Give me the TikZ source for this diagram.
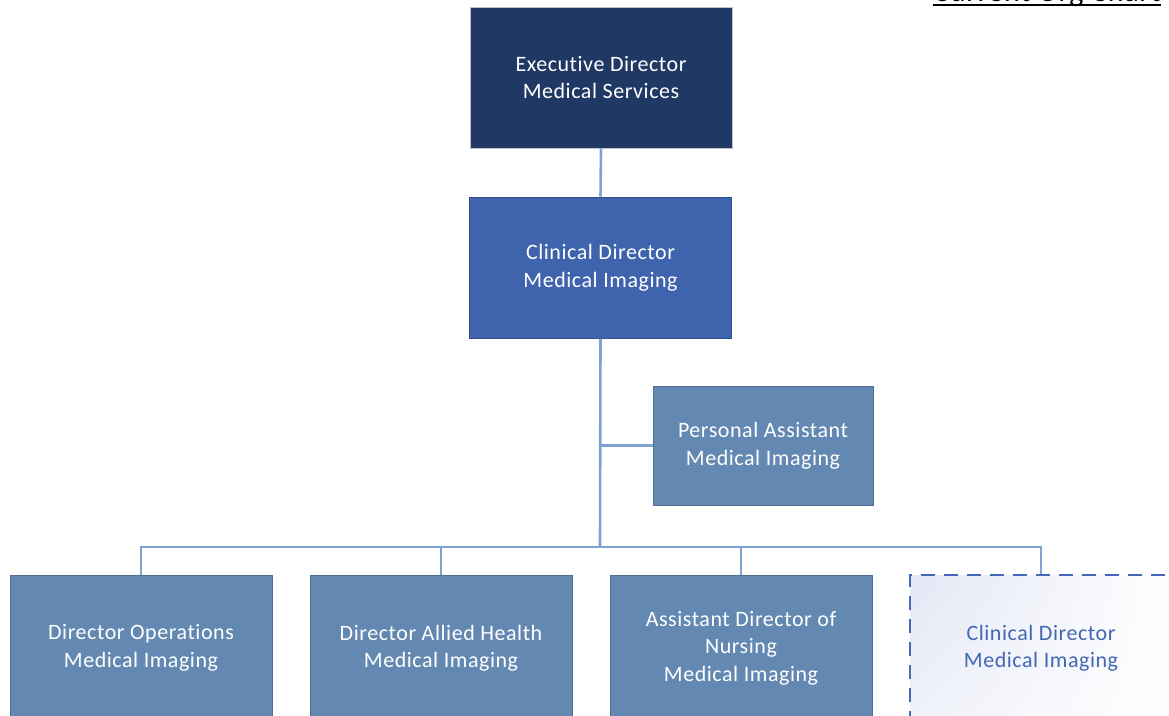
\documentclass[tikz,border=0pt]{standalone}
\usepackage{fontspec}
\setmainfont{Carlito}[Ligatures=NoCommon, LetterSpace=2.5]
\usetikzlibrary{shadings}
\definecolor{execfill}{HTML}{203864}
\definecolor{execline}{HTML}{BFC3CC}
\definecolor{clinfill}{HTML}{3F63AD}
\definecolor{clinline}{HTML}{2F5290}
\definecolor{stafffill}{HTML}{6388B1}
\definecolor{staffline}{HTML}{4F6E93}
\definecolor{connline}{HTML}{7DA3D5}
\definecolor{vacline}{HTML}{4469B8}
\definecolor{vactext}{HTML}{4168B5}
\definecolor{vacshade}{HTML}{E4E7F5}
\tikzset{
  orgbox/.style={rectangle, draw, line width=1pt, text=white, align=center,
    font=\fontsize{22}{27.5}\selectfont, minimum width=262pt, minimum height=141pt, inner sep=0pt},
  execbox/.style={orgbox, fill=execfill, draw=execline},
  clinbox/.style={orgbox, fill=clinfill, draw=clinline},
  staffbox/.style={orgbox, fill=stafffill, draw=staffline},
  lowbox/.style={staffbox, minimum height=146pt},
  conn/.style={draw=connline, line width=2.6pt},
  vacant/.style={draw=vacline, line width=2.6pt, dash pattern=on 14pt off 9pt}
}
\begin{document}
\begin{tikzpicture}[x=1pt, y=-1pt]
  \clip (0,0) rectangle (1169,715);
  \fill[white] (0,0) rectangle (1169,715);

  % heading, underlined
  \node[anchor=base west, inner sep=0pt, font=\fontsize{30}{36}\selectfont] (title) at (933,1.5) {Current Org Chart};
  \draw[line width=2pt] ([yshift=-3.5pt]title.base west) -- ([yshift=-3.5pt]title.base east);

  % boxes
  \node[execbox] (exec) at (601,77.5) {Executive Director\\Medical Services};
  \node[clinbox] (clin) at (600.5,267.5) {Clinical Director\\Medical Imaging};
  \node[staffbox, minimum width=220pt, minimum height=119pt] (pa) at (763,445.5) {Personal Assistant\\Medical Imaging};
  \node[lowbox] (ops) at (141,648) {Director Operations\\Medical Imaging};
  \node[lowbox] (ahealth) at (441,648) {Director Allied Health\\Medical Imaging};
  \node[lowbox] (nurs) at (741,648) {Assistant Director of\\Nursing\\Medical Imaging};

  % vacant position, dashed with a soft shade
  \shade[upper left=vacshade, lower left=vacshade!55, upper right=white, lower right=white]
    (910,575) rectangle (1176,720);
  \node[rectangle, minimum width=266pt, minimum height=146pt, inner sep=0pt, align=center,
    text=vactext, font=\fontsize{22}{27.5}\selectfont] (vac) at (1041,648) {Clinical Director\\Medical Imaging};

  % connectors
  \coordinate (bus) at (600,547);
  \draw[conn] (exec.south) -- (clin.north);
  \draw[conn] (clin.south) -- (bus);
  \draw[conn] (pa.west) -- (pa.west -| clin.south);
  \draw[conn] (bus) -| (ops.north);
  \draw[conn] (bus) -| (ahealth.north);
  \draw[conn] (bus) -| (nurs.north);
  \draw[conn] (bus) -| (vac.north);

  \draw[vacant] (910,725) -- (910,575) -- (1180,575);
\end{tikzpicture}
\end{document}
